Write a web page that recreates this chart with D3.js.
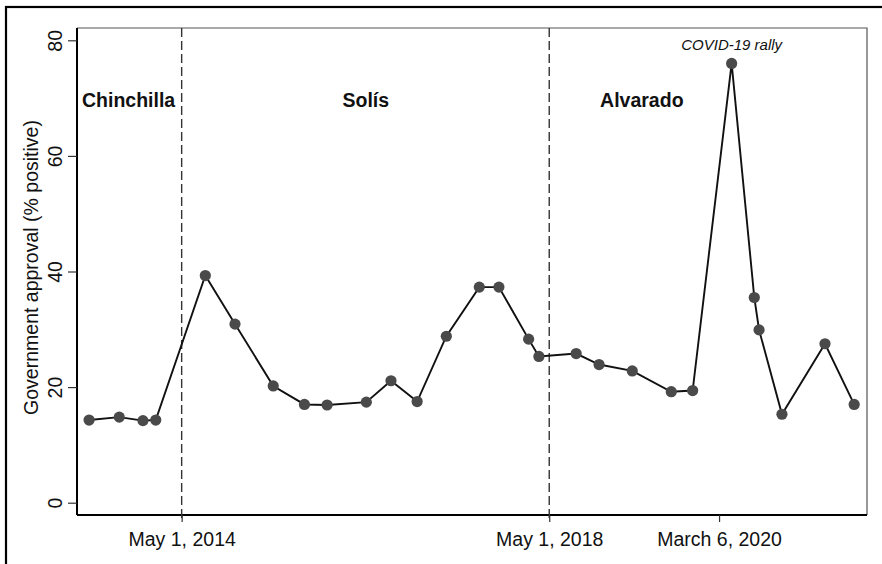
<!DOCTYPE html>
<html>
<head>
<meta charset="utf-8">
<script src="https://cdn.jsdelivr.net/npm/d3@7"></script>
<style>
  body { margin: 0; background: #fff; }
  svg { display: block; font-family: "Liberation Sans", Arial, sans-serif; }
</style>
</head>
<body>
<svg width="882" height="564"></svg>
<script>
// survey dates and approval values
var dates = [
  "2013-04-28", "2013-08-26", "2013-11-28", "2014-01-18",
  "2014-08-03", "2014-11-29", "2015-04-30", "2015-09-01", "2015-11-30",
  "2016-05-04", "2016-08-10", "2016-11-22", "2017-03-18", "2017-07-27",
  "2017-10-13", "2018-02-08", "2018-03-21",
  "2018-08-16", "2018-11-15", "2019-03-27", "2019-08-29", "2019-11-22",
  "2020-04-25", "2020-07-24", "2020-08-12", "2020-11-11", "2021-05-01", "2021-08-25"
];
var approval = [
  14.3, 14.8, 14.2, 14.3,
  39.3, 30.9, 20.2, 17.0, 16.9,
  17.4, 21.1, 17.5, 28.8, 37.3,
  37.3, 28.3, 25.3,
  25.8, 23.9, 22.8, 19.2, 19.4,
  76.0, 35.5, 29.9, 15.3, 27.5, 17.0
];
var yTicks = [0, 20, 40, 60, 80];
var xTickDates = ["2014-05-01", "2018-05-01", "2020-03-06"];
var xTickLabels = ["May 1, 2014", "May 1, 2018", "March 6, 2020"];
var eraBreaks = ["2014-05-01", "2018-05-01"];
var eraNames = ["Chinchilla", "Solís", "Alvarado"];
var eraLabelDates = ["2013-10-02", "2016-05-02", "2019-05-04"];
var covidLabel = "COVID-19 rally";
var covidIndex = 22;

var parse = d3.timeParse("%Y-%m-%d");
var W = 882, H = 564;
var L = 77, T = 28, R = 867, B = 515;

var svg = d3.select("svg");

// outer frame (only top/left edges fall inside the picture)
svg.append("rect")
  .attr("x", 6).attr("y", 7)
  .attr("width", W + 20).attr("height", H + 20)
  .attr("fill", "none").attr("stroke", "#000").attr("stroke-width", 2.2);

var x = d3.scaleTime()
  .domain([parse("2013-03-11"), parse("2021-10-15")])
  .range([L, R]);
var y = d3.scaleLinear().domain([0, 80]).range([502.7, 40.3]);

var pts = dates.map(function(d, i) { return { date: parse(d), v: approval[i] }; });

// plot box: top / right thin gray
svg.append("path")
  .attr("d", "M" + L + "," + T + "H" + R + "V" + B)
  .attr("fill", "none").attr("stroke", "#555").attr("stroke-width", 1.2);

// y axis
var yAxis = svg.append("g")
  .attr("transform", "translate(" + L + ",0)")
  .call(d3.axisLeft(y).tickValues(yTicks).tickSize(9).tickPadding(8));
yAxis.select(".domain").attr("d", "M0," + T + "V" + B).attr("stroke", "#000").attr("stroke-width", 2);
yAxis.selectAll(".tick line").attr("stroke", "#333").attr("stroke-width", 1.2);
yAxis.selectAll(".tick text")
  .attr("font-size", 19.5).attr("fill", "#111")
  .attr("transform", "rotate(-90)")
  .attr("x", 0).attr("y", -15)
  .attr("dy", null)
  .attr("text-anchor", "middle");

// x axis
var xAxis = svg.append("g")
  .attr("transform", "translate(0," + B + ")")
  .call(d3.axisBottom(x)
    .tickValues(xTickDates.map(parse))
    .tickFormat(function(d, i) { return xTickLabels[i]; })
    .tickSize(7).tickPadding(10));
xAxis.select(".domain").attr("d", "M" + L + ",0H" + R).attr("stroke", "#000").attr("stroke-width", 2);
xAxis.selectAll(".tick line").attr("stroke", "#333").attr("stroke-width", 1.2);
xAxis.selectAll(".tick text").attr("font-size", 19.5).attr("fill", "#111");

// y title
svg.append("text")
  .attr("transform", "translate(38," + ((T + B) / 2 - 4) + ") rotate(-90)")
  .attr("text-anchor", "middle")
  .attr("font-size", 19.5).attr("fill", "#111")
  .text("Government approval (% positive)");

// era dividers
svg.selectAll("line.era")
  .data(eraBreaks)
  .enter().append("line")
  .attr("class", "era")
  .attr("x1", function(d) { return x(parse(d)); })
  .attr("x2", function(d) { return x(parse(d)); })
  .attr("y1", T).attr("y2", B + 7)
  .attr("stroke", "#333").attr("stroke-width", 1.4)
  .attr("stroke-dasharray", "9,4");

// era names
svg.selectAll("text.era")
  .data(eraNames)
  .enter().append("text")
  .attr("class", "era")
  .attr("x", function(d, i) { return x(parse(eraLabelDates[i])); })
  .attr("y", 107)
  .attr("text-anchor", "middle")
  .attr("font-size", 19.5).attr("font-weight", "bold").attr("fill", "#111")
  .text(function(d) { return d; });

// series
var line = d3.line()
  .x(function(d) { return x(d.date); })
  .y(function(d) { return y(d.v); });
svg.append("path")
  .datum(pts)
  .attr("d", line)
  .attr("fill", "none").attr("stroke", "#111").attr("stroke-width", 1.9);

svg.selectAll("circle")
  .data(pts)
  .enter().append("circle")
  .attr("cx", function(d) { return x(d.date); })
  .attr("cy", function(d) { return y(d.v); })
  .attr("r", 5.6)
  .attr("fill", "#4a4a4a");

// covid note
svg.append("text")
  .attr("x", x(pts[covidIndex].date))
  .attr("y", y(pts[covidIndex].v) - 13)
  .attr("text-anchor", "middle")
  .attr("font-size", 15).attr("font-style", "italic").attr("fill", "#111")
  .text(covidLabel);
</script>
</body>
</html>
